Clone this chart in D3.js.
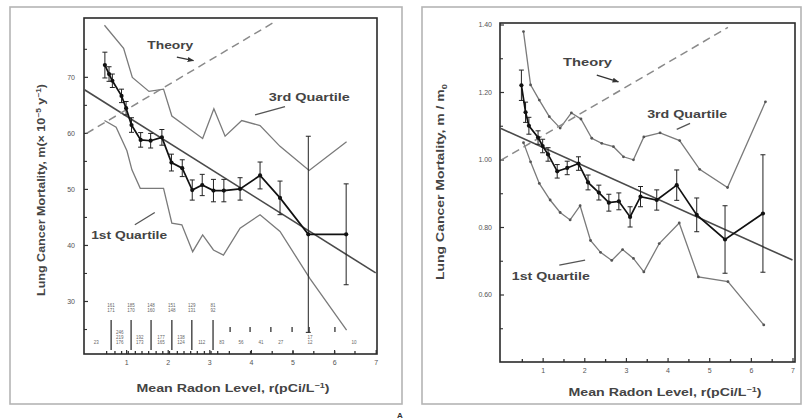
<!DOCTYPE html>
<html>
<head>
<meta charset="utf-8">
<script src="https://cdn.jsdelivr.net/npm/d3@7"></script>
<style>
  body { margin: 0; background: #fff; }
  svg { display: block; }
  text { font-family: "Liberation Sans", Arial, Helvetica, sans-serif; }
</style>
</head>
<body>
<svg id="chart" width="805" height="419"></svg>
<script>
// ---- Radon bins (mean radon level, pCi/L) ----
const binX = [0.49, 0.59, 0.67, 0.89, 1.0, 1.13, 1.35, 1.59, 1.86, 2.09, 2.35, 2.59, 2.83, 3.10, 3.35, 3.74, 4.22, 4.70, 5.38, 6.29];

// ---- Panel 1: absolute mortality, m (10^-5 y^-1) ----
const mortality    = [72.1, 70.5, 69.3, 66.6, 64.4, 61.4, 58.75, 58.6, 59.2, 54.7, 53.7, 49.8, 50.7, 49.7, 49.7, 50.0, 52.4, 48.4, 41.9, 41.9];
const mortalityErr = [2.3, 1.3, 1.2, 1.2, 1.2, 1.3, 1.3, 1.3, 1.4, 1.5, 1.5, 1.8, 1.9, 2.0, 2.0, 2.0, 2.4, 3.0, 17.5, 9.0];

const q3AbsX = [0.48, 0.94, 1.15, 1.55, 1.90, 2.10, 2.84, 3.11, 3.38, 3.78, 4.22, 4.70, 5.40, 6.30];
const q3Abs  = [79.2, 75.1, 69.9, 67.4, 67.8, 63.0, 59.0, 64.3, 59.4, 62.2, 61.3, 57.6, 53.3, 58.4];
const q1AbsX = [0.48, 0.76, 1.02, 1.14, 1.34, 1.90, 2.10, 2.34, 2.60, 2.84, 3.10, 3.34, 3.74, 4.22, 4.70, 5.42, 6.30];
const q1Abs  = [62.2, 61.0, 56.8, 53.4, 50.1, 50.1, 43.9, 43.6, 38.8, 41.8, 39.1, 38.2, 43.0, 45.4, 42.4, 34.0, 24.8];

const fitAbs    = { a: 67.7, b: -4.67, from: 0, to: 7 };
const theoryAbs = { a: 59.7, b: 4.4, from: 0.05, to: 4.55 };

// county counts printed along the bottom of panel 1
const countTopX     = [0.64, 1.12, 1.60, 2.10, 2.58, 3.09];
const countTopText  = [["161", "171"], ["185", "170"], ["148", "160"], ["151", "148"], ["129", "131"], ["81", "92"]];
const countBotX     = [0.28, 0.85, 1.33, 1.84, 2.32, 2.82, 3.30, 3.76, 4.24, 4.72, 5.42, 6.48];
const countBotText  = [["23"], ["246", "219", "176"], ["192", "173"], ["177", "165"], ["138", "124"], ["112"], ["83"], ["56"], ["41"], ["27"], ["17", "12"], ["10"]];
const countMarkX    = [3.50, 3.98, 4.48, 4.99, 5.40, 6.02];
const binEdgeX      = [0.52, 0.72, 0.88, 1.04, 1.21, 1.37, 1.53, 1.71, 1.87, 2.03, 2.22, 2.38, 2.54, 2.70, 2.87, 3.03, 3.19, 3.47, 3.98, 4.5, 5.0, 5.5, 6.0, 6.49];

// ---- Panel 2: mortality relative to m0 ----
const relMortality    = [1.22, 1.14, 1.10, 1.065, 1.04, 1.015, 0.965, 0.975, 0.988, 0.932, 0.902, 0.872, 0.876, 0.83, 0.89, 0.88, 0.924, 0.836, 0.763, 0.84];
const relMortalityErr = [0.045, 0.03, 0.025, 0.02, 0.02, 0.02, 0.02, 0.02, 0.02, 0.022, 0.022, 0.025, 0.025, 0.03, 0.03, 0.03, 0.045, 0.05, 0.10, 0.174];

const q3RelX = [0.54, 0.71, 0.92, 1.16, 1.42, 1.69, 1.92, 2.18, 2.42, 2.70, 2.94, 3.18, 3.43, 3.82, 4.29, 4.77, 5.44, 6.35];
const q3Rel  = [1.379, 1.221, 1.176, 1.127, 1.093, 1.138, 1.12, 1.063, 1.048, 1.038, 1.008, 0.999, 1.067, 1.079, 1.056, 0.971, 0.917, 1.171];
const q1RelX = [0.54, 0.71, 0.92, 1.18, 1.42, 1.66, 1.90, 2.15, 2.39, 2.66, 2.92, 3.18, 3.43, 3.80, 4.28, 4.74, 5.45, 6.31];
const q1Rel  = [1.05, 0.993, 0.929, 0.88, 0.843, 0.821, 0.863, 0.76, 0.725, 0.701, 0.733, 0.707, 0.667, 0.751, 0.812, 0.652, 0.638, 0.51];

const fitRel    = { a: 1.092, b: -0.0557, from: 0, to: 7 };
const theoryRel = { a: 0.998, b: 0.0722, from: 0, to: 5.45 };

const xTicks = [1, 2, 3, 4, 5, 6, 7];

const svg = d3.select("#chart");

// arrowhead for the "Theory" pointers
svg.append("defs").append("marker")
  .attr("id", "arrow").attr("viewBox", "0 0 10 10")
  .attr("refX", 9).attr("refY", 5)
  .attr("markerWidth", 5).attr("markerHeight", 5)
  .attr("orient", "auto")
  .append("path").attr("d", "M0,1 L10,5 L0,9 Z").attr("fill", "#333");

function panel(cfg) {
  const g = svg.append("g");
  const x = d3.scaleLinear().domain([0, 7]).range(cfg.xRange);
  const y = d3.scaleLinear().domain(cfg.yDomain).range(cfg.yRange);

  // outer figure frame
  g.append("rect").attr("x", cfg.frame[0]).attr("y", cfg.frame[1])
    .attr("width", cfg.frame[2] - cfg.frame[0]).attr("height", cfg.frame[3] - cfg.frame[1])
    .attr("fill", "none").attr("stroke", "#b5b5b5").attr("stroke-width", 1.6);

  const [bx0, by0, bx1, by1] = cfg.box;

  // x axis
  const xAxis = g.append("g").attr("transform", `translate(0,${by1})`)
    .call(d3.axisBottom(x).tickValues(xTicks).tickSize(-4).tickPadding(6).tickFormat(d3.format("d")));
  xAxis.select(".domain").remove();
  xAxis.selectAll("line").attr("stroke", "#333").attr("stroke-width", 1.2);
  xAxis.selectAll("text").attr("font-size", 7).attr("fill", "#555").attr("font-family", "Liberation Sans, Arial, sans-serif");

  const xMinor = g.append("g").attr("transform", `translate(0,${by1})`)
    .call(d3.axisBottom(x).tickValues(cfg.xMinor).tickSize(-3).tickFormat(""));
  xMinor.select(".domain").remove();
  xMinor.selectAll("line").attr("stroke", "#333").attr("stroke-width", 1.3);

  // y axis
  const yAxis = g.append("g").attr("transform", `translate(${bx0},0)`)
    .call(d3.axisLeft(y).tickValues(cfg.yTicks).tickSize(-4).tickPadding(cfg.yPad).tickFormat(cfg.yFormat));
  yAxis.select(".domain").remove();
  yAxis.selectAll("line").attr("stroke", "#333").attr("stroke-width", 1.2);
  yAxis.selectAll("text").attr("font-size", 7).attr("fill", "#555").attr("font-family", "Liberation Sans, Arial, sans-serif");

  const yMinor = g.append("g").attr("transform", `translate(${bx0},0)`)
    .call(d3.axisLeft(y).tickValues(cfg.yMinor).tickSize(-3).tickFormat(""));
  yMinor.select(".domain").remove();
  yMinor.selectAll("line").attr("stroke", "#333").attr("stroke-width", 1.1);

  // plot box
  g.append("rect").attr("x", bx0).attr("y", by0)
    .attr("width", bx1 - bx0).attr("height", by1 - by0)
    .attr("fill", "none").attr("stroke", "#2a2a2a").attr("stroke-width", 1.6);

  const line = d3.line().x(d => x(d[0])).y(d => y(d[1]));

  // quartile curves
  const quart = (xs, vs) => {
    const pts = xs.map((v, i) => [v, vs[i]]);
    g.append("path").attr("d", line(pts)).attr("fill", "none")
      .attr("stroke", "#7a7a7a").attr("stroke-width", 1.3);
    if (cfg.quartileDots) {
      g.append("g").selectAll("circle").data(pts).join("circle")
        .attr("cx", d => x(d[0])).attr("cy", d => y(d[1])).attr("r", 1.4).attr("fill", "#555");
    }
  };
  quart(cfg.q3x, cfg.q3);
  quart(cfg.q1x, cfg.q1);

  // linear fit and theory line
  const straight = (p) => [[p.from, p.a + p.b * p.from], [p.to, p.a + p.b * p.to]];
  g.append("path").attr("d", line(straight(cfg.fit))).attr("fill", "none")
    .attr("stroke", "#4a4a4a").attr("stroke-width", 1.6);
  g.append("path").attr("d", line(straight(cfg.theory))).attr("fill", "none")
    .attr("stroke", "#8a8a8a").attr("stroke-width", 1.5).attr("stroke-dasharray", "8,5");

  // measured points with error bars
  const pts = binX.map((v, i) => ({ x: v, m: cfg.m[i], e: cfg.err[i] }));
  const eb = g.append("g").attr("stroke", "#222").attr("stroke-width", 1);
  pts.forEach(d => {
    const cx = x(d.x), cw = 2.5;
    eb.append("line").attr("x1", cx).attr("x2", cx).attr("y1", y(d.m + d.e)).attr("y2", y(d.m - d.e));
    eb.append("line").attr("x1", cx - cw).attr("x2", cx + cw).attr("y1", y(d.m + d.e)).attr("y2", y(d.m + d.e));
    eb.append("line").attr("x1", cx - cw).attr("x2", cx + cw).attr("y1", y(d.m - d.e)).attr("y2", y(d.m - d.e));
  });
  g.append("path").attr("d", line(pts.map(d => [d.x, d.m]))).attr("fill", "none")
    .attr("stroke", "#111").attr("stroke-width", 1.7);
  g.append("g").selectAll("circle").data(pts).join("circle")
    .attr("cx", d => x(d.x)).attr("cy", d => y(d.m)).attr("r", 2.1).attr("fill", "#111");

  // annotations
  const ann = cfg.ann;
  const label = (a) => g.append("text").attr("x", x(a.x)).attr("y", y(a.y))
    .attr("font-size", 11).attr("font-weight", "bold").attr("fill", "#444")
    .attr("textLength", a.w).attr("lengthAdjust", "spacingAndGlyphs").text(a.t);
  label(ann.theory); label(ann.q3); label(ann.q1);
  g.append("line").attr("x1", x(ann.arrow[0])).attr("y1", y(ann.arrow[1]))
    .attr("x2", x(ann.arrow[2])).attr("y2", y(ann.arrow[3]))
    .attr("stroke", "#333").attr("stroke-width", 1.3).attr("marker-end", "url(#arrow)");
  [ann.q3Lead, ann.q1Lead].forEach(l => g.append("line")
    .attr("x1", x(l[0])).attr("y1", y(l[1])).attr("x2", x(l[2])).attr("y2", y(l[3]))
    .attr("stroke", "#555").attr("stroke-width", 1.3));

  // axis titles
  g.append("text").attr("x", cfg.xTitle[0]).attr("y", cfg.xTitle[1]).attr("text-anchor", "middle")
    .attr("font-size", 11).attr("font-weight", "bold").attr("fill", "#444")
    .attr("textLength", 193).attr("lengthAdjust", "spacingAndGlyphs")
    .html('Mean Radon Level, r(pCi/L<tspan dy="-4" font-size="7">−1</tspan><tspan dy="4">)</tspan>');
  g.append("text").attr("transform", `translate(${cfg.yTitle[0]},${cfg.yTitle[1]}) rotate(-90)`)
    .attr("text-anchor", "middle").attr("font-size", 10.5).attr("font-weight", "bold").attr("fill", "#444")
    .attr("textLength", cfg.yTitle[2]).attr("lengthAdjust", "spacingAndGlyphs")
    .html(cfg.yTitleHtml);

  return { g, x, y };
}

// Panel 1
const p1 = panel({
  frame: [10, 7, 402, 404],
  box: [84, 18, 377, 354],
  xRange: [84.5, 375.7],
  yDomain: [20.54, 80.5], yRange: [354, 18],
  yTicks: [30, 40, 50, 60, 70], yMinor: [25, 35, 45, 55, 65, 75], yPad: 9, yFormat: d3.format("d"),
  xMinor: binEdgeX,
  m: mortality, err: mortalityErr,
  q3x: q3AbsX, q3: q3Abs, q1x: q1AbsX, q1: q1Abs, quartileDots: false,
  fit: fitAbs, theory: theoryAbs,
  ann: {
    theory: { x: 1.51, y: 75.0, t: "Theory", w: 46 },
    q3: { x: 4.43, y: 65.7, t: "3rd Quartile", w: 81 },
    q1: { x: 0.16, y: 41.1, t: "1st Quartile", w: 76 },
    arrow: [2.22, 73.5, 2.62, 72.9],
    q3Lead: [4.10, 63.2, 4.82, 64.7],
    q1Lead: [1.21, 43.6, 1.69, 45.8]
  },
  xTitle: [233, 392],
  yTitle: [45, 190, 212],
  yTitleHtml: 'Lung Cancer Mortality, m(× 10<tspan dy="-4" font-size="7">−5</tspan><tspan dy="4"> y</tspan><tspan dy="-4" font-size="7">−1</tspan><tspan dy="4">)</tspan>'
});

// county counts along the bottom of panel 1
(function () {
  const { g, x } = p1;
  const base = 354;
  const c = g.append("g").attr("fill", "#666").attr("font-size", 4.5).attr("text-anchor", "middle");
  countTopX.forEach((v, i) => {
    g.append("line").attr("x1", x(v)).attr("x2", x(v)).attr("y1", base - 34).attr("y2", base - 4)
      .attr("stroke", "#333").attr("stroke-width", 1.3);
    const t = c.append("text").attr("x", x(v)).attr("y", base - 47);
    countTopText[i].forEach((s, k) => t.append("tspan").attr("x", x(v)).attr("dy", k ? 5 : 0).text(s));
  });
  countBotX.forEach((v, i) => {
    const lines = countBotText[i];
    const t = c.append("text").attr("x", x(v)).attr("y", base - 10 - (lines.length - 1) * 5);
    lines.forEach((s, k) => t.append("tspan").attr("x", x(v)).attr("dy", k ? 5 : 0).text(s));
  });
  countMarkX.forEach(v => g.append("line").attr("x1", x(v)).attr("x2", x(v))
    .attr("y1", base - 27).attr("y2", base - 22).attr("stroke", "#333").attr("stroke-width", 1.3));
})();

// Panel 2
panel({
  frame: [422, 7, 801, 404],
  box: [500, 23, 795, 362],
  xRange: [501, 792.5],
  yDomain: [0.4, 1.4], yRange: [362, 24.5],
  yTicks: [0.6, 0.8, 1.0, 1.2, 1.4], yMinor: [0.5, 0.7, 0.9, 1.1, 1.3], yPad: 8, yFormat: d3.format(".2f"),
  xMinor: [0.5, 1.5, 2.5, 3.5, 4.5, 5.5, 6.5],
  m: relMortality, err: relMortalityErr,
  q3x: q3RelX, q3: q3Rel, q1x: q1RelX, q1: q1Rel, quartileDots: true,
  fit: fitRel, theory: theoryRel,
  ann: {
    theory: { x: 1.49, y: 1.277, t: "Theory", w: 49 },
    q3: { x: 3.51, y: 1.123, t: "3rd Quartile", w: 80 },
    q1: { x: 0.26, y: 0.643, t: "1st Quartile", w: 78 },
    arrow: [2.30, 1.250, 2.82, 1.230],
    q3Lead: [4.22, 1.089, 4.54, 1.107],
    q1Lead: [1.40, 0.687, 2.02, 0.702]
  },
  xTitle: [665, 396],
  yTitle: [444, 182, 196],
  yTitleHtml: 'Lung Cancer Mortality, m / m<tspan dy="3" font-size="7">0</tspan>'
});

// figure part letter
svg.append("text").attr("x", 400).attr("y", 418).attr("text-anchor", "middle")
  .attr("font-size", 8).attr("font-weight", "bold").attr("fill", "#333").text("A");
</script>
</body>
</html>
